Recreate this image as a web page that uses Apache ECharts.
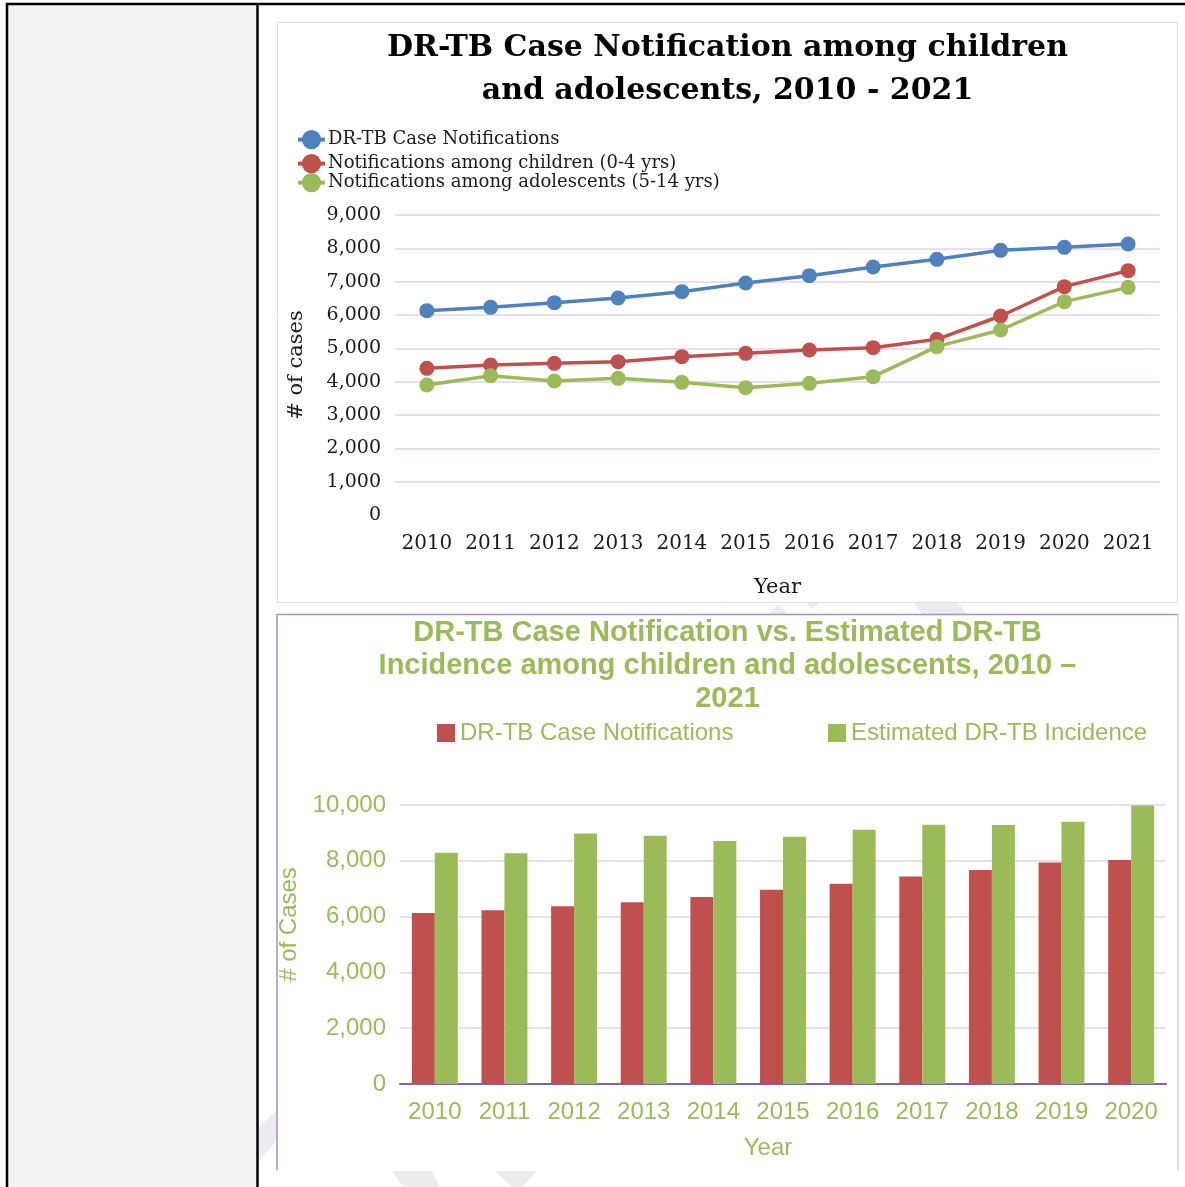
<!DOCTYPE html>
<html>
<head>
<meta charset="utf-8">
<title>DR-TB notifications among children and adolescents</title>
<script src="https://cdn.jsdelivr.net/npm/echarts@6/dist/echarts.min.js"></script>
<style>
  html, body { margin: 0; padding: 0; background: #ffffff; }
  #chart { width: 1185px; height: 1187px; }
</style>
</head>
<body>
<div id="chart"></div>
<script>
// ---- data ----
const years = ['2010', '2011', '2012', '2013', '2014', '2015', '2016', '2017', '2018', '2019', '2020', '2021'];
const drtbNotifications = [6130, 6230, 6370, 6510, 6700, 6960, 7180, 7440, 7670, 7940, 8030, 8130];
const children0to4 = [4400, 4500, 4550, 4600, 4750, 4850, 4950, 5020, 5270, 5970, 6850, 7330];
const adolescents5to14 = [3900, 4180, 4020, 4100, 3980, 3820, 3950, 4150, 5050, 5550, 6400, 6830];

const barYears = ['2010', '2011', '2012', '2013', '2014', '2015', '2016', '2017', '2018', '2019', '2020'];
const barNotifications = drtbNotifications.slice(0, barYears.length);
const estimatedIncidence = [8290, 8270, 8980, 8900, 8710, 8860, 9110, 9290, 9280, 9400, 9980];

const lineNames = ['DR-TB Case Notifications', 'Notifications among children (0-4 yrs)', 'Notifications among adolescents (5-14 yrs)'];
const barNames = ['DR-TB Case Notifications', 'Estimated DR-TB Incidence'];

// ---- styles ----
const BLUE = '#4f81bd', RED = '#c0504d', GREEN = '#9bbb59';
const SERIF = '"DejaVu Serif", "Liberation Serif", serif';
const SANS = '"Liberation Sans", Arial, sans-serif';
const GRID_LAV = '#dcd4ea';
const WM = '#ebebf0';

const chart = echarts.init(document.getElementById('chart'), null, { renderer: 'canvas' });

// one legend per line series so each row sits at its own height
const lineLegend = (name, top) => ({
  data: [name], left: 296, top: top, orient: 'vertical',
  itemWidth: 27, itemHeight: 24, itemGap: 0, padding: 0,
  lineStyle: { width: 4 },
  textStyle: { fontFamily: SERIF, fontSize: 18, color: '#1a1a1a', padding: [0, 0, 0, -2] }
});
// bar legend entries carry their own colour (the first shares its name with the blue line)
const barLegend = (name, color, left) => ({
  data: [{ name: name, icon: 'rect', itemStyle: { color: color } }],
  left: left, top: 721, padding: 0,
  itemWidth: 18, itemHeight: 18, itemGap: 5,
  textStyle: { fontFamily: SANS, fontSize: 24, color: GREEN }
});

const lineSeries = (name, data, color) => ({
  name: name, type: 'line', xAxisIndex: 0, yAxisIndex: 0, data: data,
  symbol: 'circle', symbolSize: 15, color: color,
  lineStyle: { width: 3.5, color: color }, itemStyle: { color: color }
});

chart.setOption({
  backgroundColor: '#ffffff',
  animation: false,
  graphic: [
    // page frame and left column
    { type: 'rect', z: -20, shape: { x: 8, y: 4, width: 249, height: 1183 }, style: { fill: '#f2f2f2' } },
    { type: 'line', z: -5, shape: { x1: 7, y1: 3, x2: 7, y2: 1187 }, style: { stroke: '#000', lineWidth: 2.5 } },
    { type: 'line', z: -5, shape: { x1: 6, y1: 4, x2: 1185, y2: 4 }, style: { stroke: '#000', lineWidth: 2.5 } },
    { type: 'line', z: -5, shape: { x1: 257.5, y1: 4, x2: 257.5, y2: 1187 }, style: { stroke: '#000', lineWidth: 2.5 } },
    // faint watermark shapes in the gaps around the charts
    { type: 'polygon', z: -15, shape: { points: [[258, 1128], [277, 1110], [277, 1140], [258, 1163]] }, style: { fill: WM } },
    { type: 'polygon', z: -15, shape: { points: [[392, 1171], [432, 1171], [440, 1187], [403, 1187]] }, style: { fill: WM } },
    { type: 'polygon', z: -15, shape: { points: [[495, 1171], [537, 1171], [522, 1187], [512, 1187]] }, style: { fill: WM } },
    { type: 'polygon', z: -15, shape: { points: [[768, 614], [778, 604], [788, 614]] }, style: { fill: WM } },
    { type: 'polygon', z: -15, shape: { points: [[806, 603], [819, 603], [812, 609]] }, style: { fill: WM } },
    { type: 'polygon', z: -15, shape: { points: [[914, 603], [958, 603], [967, 614], [922, 614]] }, style: { fill: WM } },
    // chart panels
    { type: 'rect', z: -10, shape: { x: 277.5, y: 22.5, width: 900, height: 580 }, style: { fill: '#fff', stroke: '#dedede', lineWidth: 1 } },
    { type: 'rect', z: -10, shape: { x: 277, y: 614, width: 901, height: 556 }, style: { fill: '#fff' } },
    { type: 'line', z: -9, shape: { x1: 277, y1: 614.5, x2: 1178, y2: 614.5 }, style: { stroke: '#a38fc9', lineWidth: 1.5 } },
    { type: 'line', z: -9, shape: { x1: 277, y1: 614, x2: 277, y2: 1170 }, style: { stroke: '#a38fc9', lineWidth: 1.5 } },
    { type: 'line', z: -9, shape: { x1: 1178, y1: 614, x2: 1178, y2: 1170 }, style: { stroke: '#d0d0d0', lineWidth: 1.5 } }
  ],
  title: [
    {
      text: 'DR-TB Case Notification among children\nand adolescents, 2010 - 2021',
      left: 727.5, top: 27, textAlign: 'center', padding: 0,
      textStyle: { fontFamily: SERIF, fontWeight: 'bold', fontSize: 30, lineHeight: 43, color: '#000' }
    },
    {
      text: 'DR-TB Case Notification vs. Estimated DR-TB\nIncidence among children and adolescents, 2010 \u2013\n2021',
      left: 727.5, top: 616, textAlign: 'center', padding: 0,
      textStyle: { fontFamily: SANS, fontWeight: 'bold', fontSize: 29, lineHeight: 33, color: GREEN }
    }
  ],
  legend: [
    lineLegend(lineNames[0], 130),
    lineLegend(lineNames[1], 154),
    lineLegend(lineNames[2], 173),
    barLegend(barNames[0], RED, 437),
    barLegend(barNames[1], GREEN, 828)
  ],
  grid: [
    { left: 395, right: 25, top: 215, height: 300 },
    { left: 400, right: 19, top: 805, height: 279 }
  ],
  xAxis: [
    {
      type: 'category', gridIndex: 0, data: years, boundaryGap: true,
      name: 'Year', nameLocation: 'middle', nameGap: 62,
      nameTextStyle: { fontFamily: SERIF, fontSize: 21, color: '#1a1a1a' },
      axisLine: { show: false }, axisTick: { show: false },
      axisLabel: { interval: 0, fontFamily: SERIF, fontSize: 20, color: '#1a1a1a', margin: 19 }
    },
    {
      type: 'category', gridIndex: 1, data: barYears, boundaryGap: true,
      name: 'Year', nameLocation: 'middle', nameGap: 52,
      nameTextStyle: { fontFamily: SANS, fontSize: 24, color: GREEN, padding: [0, 30, 0, 0] },
      axisLine: { show: true, lineStyle: { color: '#7e62ad', width: 2 } }, axisTick: { show: false },
      axisLabel: { interval: 0, fontFamily: SANS, fontSize: 24, color: GREEN, margin: 16 }
    }
  ],
  yAxis: [
    {
      type: 'value', gridIndex: 0, min: 0, max: 9000, interval: 1000,
      name: '# of cases', nameLocation: 'middle', nameGap: 88,
      nameTextStyle: { fontFamily: SERIF, fontSize: 21, color: '#1a1a1a' },
      axisLine: { show: false }, axisTick: { show: false },
      axisLabel: {
        fontFamily: SERIF, fontSize: 19, color: '#1a1a1a', margin: 14,
        formatter: v => v.toLocaleString('en-US')
      },
      splitLine: { lineStyle: { color: ['rgba(0,0,0,0)', GRID_LAV, GRID_LAV, GRID_LAV, GRID_LAV, GRID_LAV, GRID_LAV, GRID_LAV, GRID_LAV, GRID_LAV], width: 1.5 } }
    },
    {
      type: 'value', gridIndex: 1, min: 0, max: 10000, interval: 2000,
      name: '# of Cases', nameLocation: 'middle', nameGap: 93,
      nameTextStyle: { fontFamily: SANS, fontSize: 24, color: GREEN, padding: [0, 0, 0, 40] },
      axisLine: { show: false }, axisTick: { show: false },
      axisLabel: {
        fontFamily: SANS, fontSize: 24, color: GREEN, margin: 14,
        formatter: v => v.toLocaleString('en-US')
      },
      splitLine: { lineStyle: { color: GRID_LAV, width: 1.5 } }
    }
  ],
  series: [
    lineSeries(lineNames[0], drtbNotifications, BLUE),
    lineSeries(lineNames[1], children0to4, RED),
    lineSeries(lineNames[2], adolescents5to14, GREEN),
    {
      name: barNames[0], type: 'bar', xAxisIndex: 1, yAxisIndex: 1, data: barNotifications,
      color: RED, itemStyle: { color: RED }, barGap: '0%', barCategoryGap: '34%'
    },
    {
      name: barNames[1], type: 'bar', xAxisIndex: 1, yAxisIndex: 1, data: estimatedIncidence,
      color: GREEN, itemStyle: { color: GREEN }, barGap: '0%', barCategoryGap: '34%'
    }
  ]
});
</script>
</body>
</html>
